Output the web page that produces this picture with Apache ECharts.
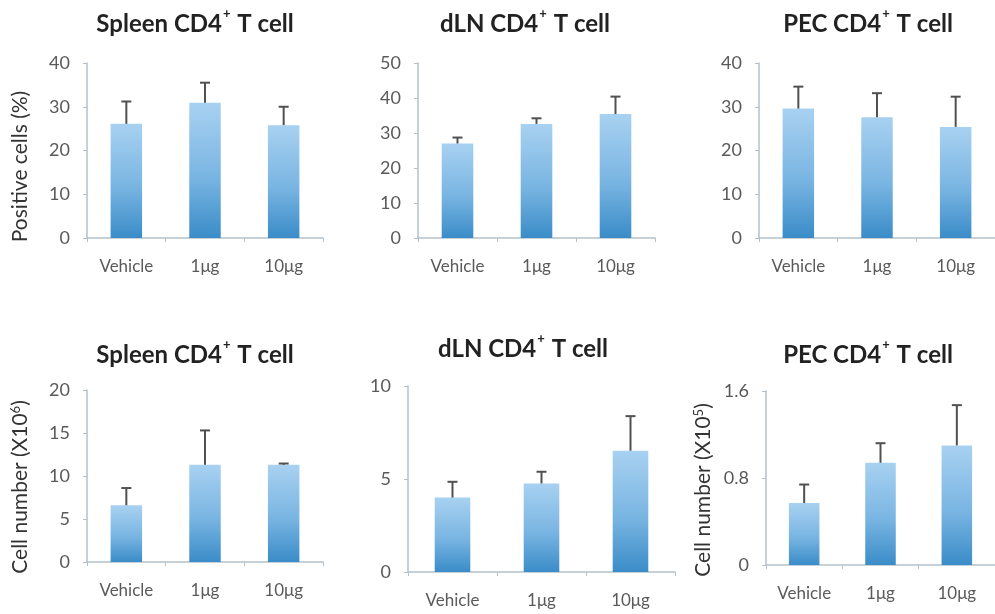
<!DOCTYPE html>
<html>
<head>
<meta charset="utf-8">
<script src="https://cdn.jsdelivr.net/npm/echarts@6/dist/echarts.min.js"></script>
<style>
  html, body { margin: 0; padding: 0; background: #fff; }
  #chart { width: 995px; height: 614px; }
</style>
</head>
<body>
<div id="chart"></div>
<script>
// Treatment groups (x categories)
const groups = ['Vehicle', '1\u03bcg', '10\u03bcg'];

// Panel titles (tissue)
const tissues = ['Spleen', 'dLN', 'PEC', 'Spleen', 'dLN', 'PEC'];

// Positive cells (%) — mean and upper error (SEM)
const spleenPct = [26.1, 30.9, 25.8];
const spleenPctErr = [5.1, 4.6, 4.2];
const dlnPct = [27.0, 32.6, 35.4];
const dlnPctErr = [1.7, 1.6, 5.0];
const pecPct = [29.6, 27.6, 25.4];
const pecPctErr = [5.0, 5.5, 6.9];

// Cell number — mean and upper error (SEM)
const spleenNum = [6.6, 11.3, 11.3];      // x10^6
const spleenNumErr = [2.0, 4.0, 0.15];
const dlnNum = [4.0, 4.76, 6.52];         // x10^6
const dlnNumErr = [0.85, 0.63, 1.86];
const pecNum = [0.57, 0.94, 1.10];        // x10^5
const pecNumErr = [0.17, 0.18, 0.37];

// Y-axis scales per panel: [max, interval]
const yScales = [[40, 10], [50, 10], [40, 10], [20, 5], [10, 5], [1.6, 0.8]];

const means = [spleenPct, dlnPct, pecPct, spleenNum, dlnNum, pecNum];
const errs = [spleenPctErr, dlnPctErr, pecPctErr, spleenNumErr, dlnNumErr, pecNumErr];

// Plot areas in pixels
const grids = [
  { left: 87, top: 63, width: 236, height: 175 },
  { left: 418, top: 63, width: 237, height: 175 },
  { left: 759, top: 63, width: 237, height: 175 },
  { left: 87, top: 390, width: 236, height: 172 },
  { left: 408, top: 386, width: 267, height: 186 },
  { left: 766, top: 391, width: 232, height: 174 }
];
const titlePos = [
  [190, 2], [520, 2], [863, 2],
  [190, 333], [518, 327], [863, 333]
];
const yNames = [
  'Positive cells (%)', '', '',
  'Cell number (X10{sup|6})', '', 'Cell number (X10{sup|5})'
];
const yNameGaps = [56, 0, 0, 56, 0, 52];
// shifts the rotated axis names downward along the axis
const yNamePad = [[0, 32, 0, 0], null, null, [0, 22, 0, 0], null, [0, 24, 0, 0]];

const FONT = 'Lato, "Open Sans", sans-serif';
const axisColor = '#b3c1cb';

const barFill = new echarts.graphic.LinearGradient(0, 0, 0, 1, [
  { offset: 0, color: '#a8d1f1' },
  { offset: 0.55, color: '#79b5e2' },
  { offset: 1, color: '#3a8cc8' }
]);

function errorBar(params, api) {
  const x = api.value(0);
  const base = api.coord([x, api.value(1)]);
  const top = api.coord([x, api.value(2)]);
  const cap = 5;
  const style = { stroke: '#505050', lineWidth: 2 };
  return {
    type: 'group',
    children: [
      { type: 'line', shape: { x1: base[0], y1: base[1], x2: top[0], y2: top[1] }, style },
      { type: 'line', shape: { x1: top[0] - cap, y1: top[1], x2: top[0] + cap, y2: top[1] }, style }
    ]
  };
}

const option = {
  backgroundColor: '#fff',
  animation: false,
  title: tissues.map((t, i) => ({
    text: '{t|' + t + ' CD4}{s|+}{t| T cell}',
    left: titlePos[i][0],
    top: titlePos[i][1],
    textAlign: 'center',
    textStyle: {
      rich: {
        t: { fontFamily: FONT, fontWeight: 'bold', fontSize: 24, color: '#222', lineHeight: 29, verticalAlign: 'bottom' },
        s: { fontFamily: FONT, fontWeight: 'bold', fontSize: 13, color: '#222', lineHeight: 29, verticalAlign: 'top', padding: [0, 1, 0, 1] }
      }
    }
  })),
  grid: grids.map(g => Object.assign({ containLabel: false }, g)),
  xAxis: grids.map((g, i) => ({
    type: 'category',
    gridIndex: i,
    data: groups,
    axisLine: { lineStyle: { color: axisColor, width: 1.5 } },
    axisTick: { show: true, length: 4, lineStyle: { color: axisColor } },
    axisLabel: { color: '#5a5a5a', fontFamily: FONT, fontSize: 17, margin: 20 }
  })),
  yAxis: grids.map((g, i) => ({
    type: 'value',
    gridIndex: i,
    min: 0,
    max: yScales[i][0],
    interval: yScales[i][1],
    splitLine: { show: false },
    axisLine: { show: true, lineStyle: { color: axisColor, width: 1.5 } },
    axisTick: { show: true, length: 4, lineStyle: { color: axisColor } },
    axisLabel: { color: '#5a5a5a', fontFamily: FONT, fontSize: 18, margin: 17 },
    name: yNames[i],
    nameLocation: 'middle',
    nameGap: yNameGaps[i],
    nameRotate: 90,
    nameTextStyle: {
      color: '#333', fontFamily: FONT, fontSize: 21,
      padding: yNamePad[i] || 0,
      rich: {
        sup: { fontFamily: FONT, fontSize: 13, color: '#333', verticalAlign: 'top', lineHeight: 22 }
      }
    }
  })),
  series: means.flatMap((m, i) => [
    {
      type: 'bar',
      xAxisIndex: i,
      yAxisIndex: i,
      data: m,
      barWidth: '40%',
      itemStyle: { color: barFill }
    },
    {
      type: 'custom',
      xAxisIndex: i,
      yAxisIndex: i,
      renderItem: errorBar,
      encode: { x: 0, y: [1, 2] },
      data: m.map((v, k) => [k, v, v + errs[i][k]]),
      z: 3
    }
  ])
};

const chart = echarts.init(document.getElementById('chart'), null, { renderer: 'canvas' });
chart.setOption(option);
</script>
</body>
</html>
